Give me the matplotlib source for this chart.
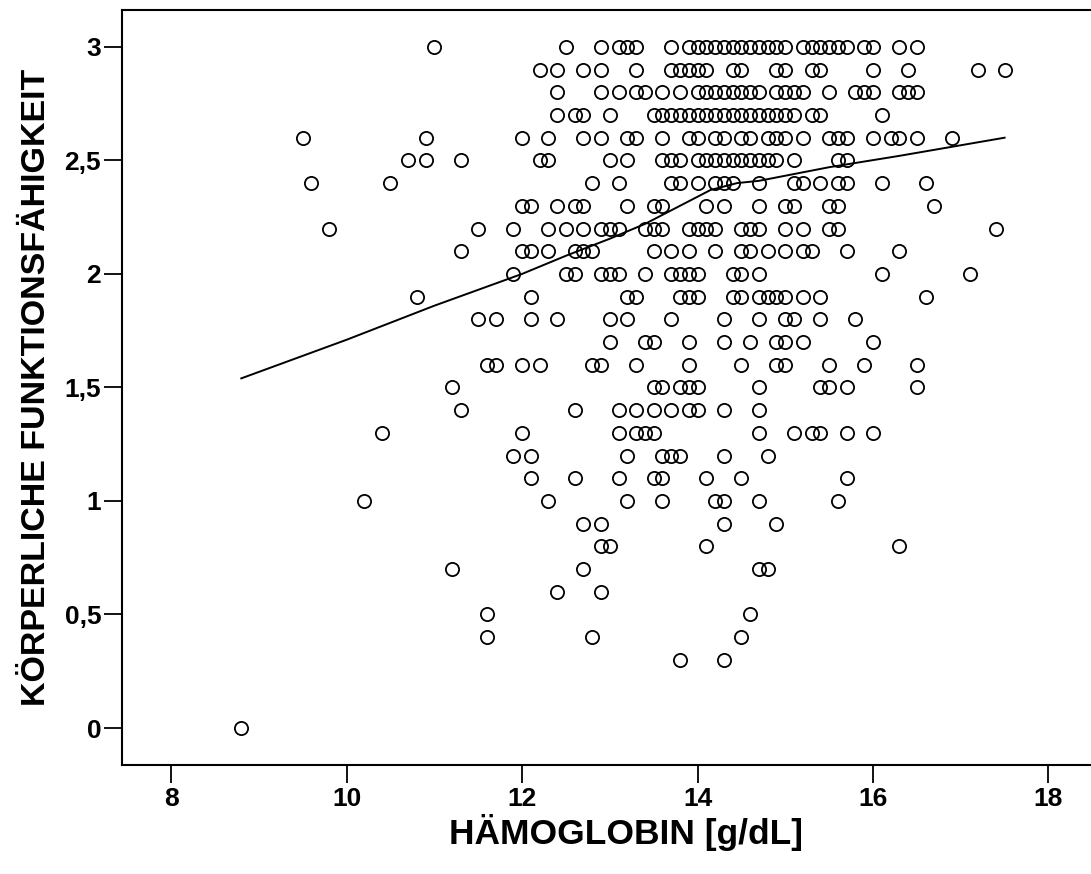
import matplotlib
matplotlib.use("Agg")
import matplotlib.pyplot as plt
from matplotlib.ticker import FuncFormatter

plt.rcParams['font.family'] = ['Liberation Sans', 'DejaVu Sans']

# Haemoglobin values (g/dL) for each level of the physical function score
row_30 = [11.0, 12.5, 12.9, 13.1, 13.2, 13.3, 13.7, 13.9, 14.0, 14.1, 14.2, 14.3, 14.4, 14.5, 14.6,
          14.7, 14.8, 14.9, 15.0, 15.2, 15.3, 15.4, 15.5, 15.6, 15.7, 15.9, 16.0, 16.3, 16.5]
row_29 = [12.2, 12.4, 12.7, 12.9, 13.3, 13.7, 13.8, 13.9, 14.0, 14.1, 14.4, 14.5, 14.9, 15.0, 15.3,
          15.4, 16.0, 16.4, 17.2, 17.5]
row_28 = [12.4, 12.9, 13.1, 13.3, 13.4, 13.6, 13.8, 14.0, 14.1, 14.2, 14.3, 14.4, 14.5, 14.6, 14.7,
          14.9, 15.0, 15.1, 15.2, 15.5, 15.8, 15.9, 16.0, 16.3, 16.4, 16.5]
row_27 = [12.4, 12.6, 12.7, 13.0, 13.5, 13.6, 13.7, 13.8, 13.9, 14.0, 14.1, 14.2, 14.3, 14.4, 14.5,
          14.6, 14.7, 14.8, 14.9, 15.0, 15.1, 15.3, 15.4, 16.1]
row_26 = [9.5, 10.9, 12.0, 12.3, 12.7, 12.9, 13.2, 13.3, 13.6, 13.9, 14.0, 14.2, 14.3, 14.5, 14.6,
          14.8, 14.9, 15.0, 15.2, 15.5, 15.6, 15.7, 16.0, 16.2, 16.3, 16.5, 16.9]
row_25 = [10.7, 10.9, 11.3, 12.2, 12.3, 13.0, 13.2, 13.6, 13.7, 13.8, 14.0, 14.1, 14.2, 14.3, 14.4,
          14.5, 14.6, 14.7, 14.8, 14.9, 15.1, 15.6, 15.7]
row_24 = [9.6, 10.5, 12.8, 13.1, 13.7, 13.8, 14.0, 14.2, 14.3, 14.4, 14.7, 15.1, 15.2, 15.4, 15.6,
          15.7, 16.1, 16.6]
row_23 = [12.0, 12.1, 12.4, 12.6, 12.7, 13.2, 13.5, 13.6, 14.1, 14.3, 14.7, 15.0, 15.1, 15.5, 15.6, 16.7]
row_22 = [9.8, 11.5, 11.9, 12.3, 12.5, 12.7, 12.9, 13.0, 13.1, 13.4, 13.5, 13.6, 13.9, 14.0, 14.1,
          14.2, 14.5, 14.6, 14.7, 15.0, 15.2, 15.5, 15.6, 17.4]
row_21 = [11.3, 12.0, 12.1, 12.3, 12.6, 12.7, 12.8, 13.5, 13.7, 13.9, 14.2, 14.5, 14.6, 14.8, 15.0,
          15.2, 15.3, 15.7, 16.3]
row_20 = [11.9, 12.5, 12.6, 12.9, 13.0, 13.1, 13.4, 13.7, 13.8, 13.9, 14.0, 14.4, 14.5, 14.7, 16.1, 17.1]
row_19 = [10.8, 12.1, 13.2, 13.3, 13.8, 13.9, 14.0, 14.4, 14.5, 14.7, 14.8, 14.9, 15.0, 15.2, 15.4, 16.6]
row_18 = [11.5, 11.7, 12.1, 12.4, 13.0, 13.2, 13.7, 14.3, 14.7, 15.0, 15.1, 15.4, 15.8]
row_17 = [13.0, 13.4, 13.5, 13.9, 14.3, 14.6, 14.9, 15.0, 15.2, 16.0]
row_16 = [11.6, 11.7, 12.0, 12.2, 12.8, 12.9, 13.3, 13.9, 14.5, 14.9, 15.0, 15.5, 15.9, 16.5]
row_15 = [11.2, 13.5, 13.6, 13.8, 13.9, 14.0, 14.7, 15.4, 15.5, 15.7, 16.5]
row_14 = [11.3, 12.6, 13.1, 13.3, 13.5, 13.7, 13.9, 14.0, 14.3, 14.7]
row_13 = [10.4, 12.0, 13.1, 13.3, 13.4, 13.5, 14.7, 15.1, 15.3, 15.4, 15.7, 16.0]
row_12 = [11.9, 12.1, 13.2, 13.6, 13.7, 13.8, 14.3, 14.8]
row_11 = [12.1, 12.6, 13.1, 13.5, 13.6, 14.1, 14.5, 15.7]
row_10 = [10.2, 12.3, 13.2, 13.6, 14.2, 14.3, 14.7, 15.6]
row_09 = [12.7, 12.9, 14.3, 14.9]
row_08 = [12.9, 13.0, 14.1, 16.3]
row_07 = [11.2, 12.7, 14.7, 14.8]
row_06 = [12.4, 12.9]
row_05 = [11.6, 14.6]
row_04 = [11.6, 12.8, 14.5]
row_03 = [13.8, 14.3]
row_00 = [8.8]

levels = [3.0, 2.9, 2.8, 2.7, 2.6, 2.5, 2.4, 2.3, 2.2, 2.1, 2.0, 1.9, 1.8, 1.7, 1.6, 1.5,
          1.4, 1.3, 1.2, 1.1, 1.0, 0.9, 0.8, 0.7, 0.6, 0.5, 0.4, 0.3, 0.0]
rows = [row_30, row_29, row_28, row_27, row_26, row_25, row_24, row_23, row_22, row_21, row_20,
        row_19, row_18, row_17, row_16, row_15, row_14, row_13, row_12, row_11, row_10, row_09,
        row_08, row_07, row_06, row_05, row_04, row_03, row_00]

# smoothed fit line
fit_x = [8.8, 10.0, 11.0, 12.0, 12.5, 13.0, 13.4, 13.8, 14.15, 14.45, 14.7, 15.5, 16.3, 17.5]
fit_y = [1.54, 1.71, 1.86, 2.00, 2.08, 2.155, 2.22, 2.30, 2.37, 2.40, 2.41, 2.47, 2.52, 2.60]

xticks = [8, 10, 12, 14, 16, 18]
yticks = [0, 0.5, 1, 1.5, 2, 2.5, 3]

hb = []
kf = []
for lev, r in zip(levels, rows):
    hb += r
    kf += [lev] * len(r)

fig = plt.figure(figsize=(10.91, 8.74), dpi=100)
# frame runs past the right edge of the picture, as in the original
ax = fig.add_axes([0.1118, 0.1247, 0.924, 0.864])

ax.plot(hb, kf, 'o', ms=9.5, mfc='none', mec='black', mew=1.3, linestyle='none')
ax.plot(fit_x, fit_y, color='black', lw=1.4)

ax.set_xlim(7.44, 18.93)
ax.set_ylim(-0.163, 3.163)
ax.set_xticks(xticks)
ax.set_yticks(yticks)
ax.yaxis.set_major_formatter(FuncFormatter(lambda v, p: ('%g' % v).replace('.', ',')))

ax.tick_params(axis='both', direction='out', length=13, width=1.3, labelsize=19, colors='black')
ax.tick_params(axis='x', pad=3)
ax.tick_params(axis='y', pad=2)
for lab in ax.get_xticklabels() + ax.get_yticklabels():
    lab.set_fontweight('bold')

for side in ['left', 'bottom', 'top', 'right']:
    ax.spines[side].set_linewidth(1.5)

ax.set_xlabel('HÄMOGLOBIN [g/dL]', fontsize=25.5, fontweight='bold', labelpad=2)
ax.set_ylabel('KÖRPERLICHE FUNKTIONSFÄHIGKEIT', fontsize=24.5, fontweight='bold', labelpad=9)

fig.savefig('out.png', dpi=100)
